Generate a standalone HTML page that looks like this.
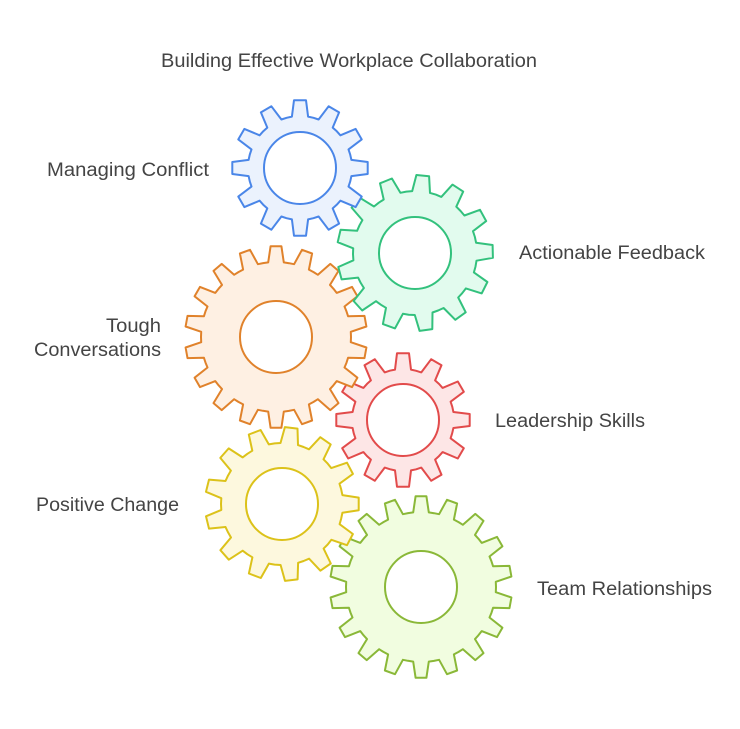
<!DOCTYPE html>
<html><head><meta charset="utf-8"><style>
html,body{margin:0;padding:0;background:#fff;}
svg{display:block;}
text{font-family:"Liberation Sans",sans-serif;font-size:19px;fill:#444;}
</style></head><body>
<svg id="s" width="740" height="729" viewBox="0 0 740 729">
<text x="161" y="67" textLength="376" lengthAdjust="spacingAndGlyphs">Building Effective Workplace Collaboration</text>
<text x="47" y="176" textLength="162" lengthAdjust="spacingAndGlyphs">Managing Conflict</text>
<text x="519" y="259" textLength="186" lengthAdjust="spacingAndGlyphs">Actionable Feedback</text>
<text x="106" y="332" textLength="55" lengthAdjust="spacingAndGlyphs">Tough</text>
<text x="34" y="356" textLength="127" lengthAdjust="spacingAndGlyphs">Conversations</text>
<text x="495" y="427" textLength="150" lengthAdjust="spacingAndGlyphs">Leadership Skills</text>
<text x="36" y="511" textLength="143" lengthAdjust="spacingAndGlyphs">Positive Change</text>
<text x="537" y="595" textLength="175" lengthAdjust="spacingAndGlyphs">Team Relationships</text>
</svg>
<script>
var gears=[
 [421,587,91,18,'#8ab838','#f1fde0',0],
 [282,504,77,13,'#dcc21a','#fdf8de',0.12],
 [403,420,67,12,'#e24b4b','#fde6e6',0],
 [276,337,91,18,'#e0822b','#fef0e3',0],
 [415,253,78,13,'#33c17d','#e2fbee',0.1],
 [300,168,68,12,'#4a86e8','#ebf2fd',0]
];
var s=document.getElementById('s');var ns='http://www.w3.org/2000/svg';var first=s.firstChild;
gears.forEach(function(g){
 var cx=g[0],cy=g[1],R=g[2],n=g[3],r=R-16,step=2*Math.PI/n,off=-Math.PI/2+g[6];
 var pts=[];
 for(var i=0;i<n;i++){
  var a=off+i*step;
  var tw=step*0.17, bw=step*0.3;
  [[r,a-step/2+0.001],[r,a-bw],[R,a-tw],[R,a+tw],[r,a+bw]].forEach(function(p){
   pts.push((cx+p[0]*Math.cos(p[1])).toFixed(1)+','+(cy+p[0]*Math.sin(p[1])).toFixed(1));});
 }
 var p=document.createElementNS(ns,'path');
 p.setAttribute('d','M'+pts.join('L')+'Z'+' M'+(cx+36)+','+cy+' a36,36 0 1,0 -72,0 a36,36 0 1,0 72,0Z');
 p.setAttribute('fill',g[5]);p.setAttribute('fill-rule','evenodd');
 p.setAttribute('stroke',g[4]);p.setAttribute('stroke-width','2');p.setAttribute('stroke-linejoin','round');
 s.insertBefore(p,first);
});
</script>
</body></html>
